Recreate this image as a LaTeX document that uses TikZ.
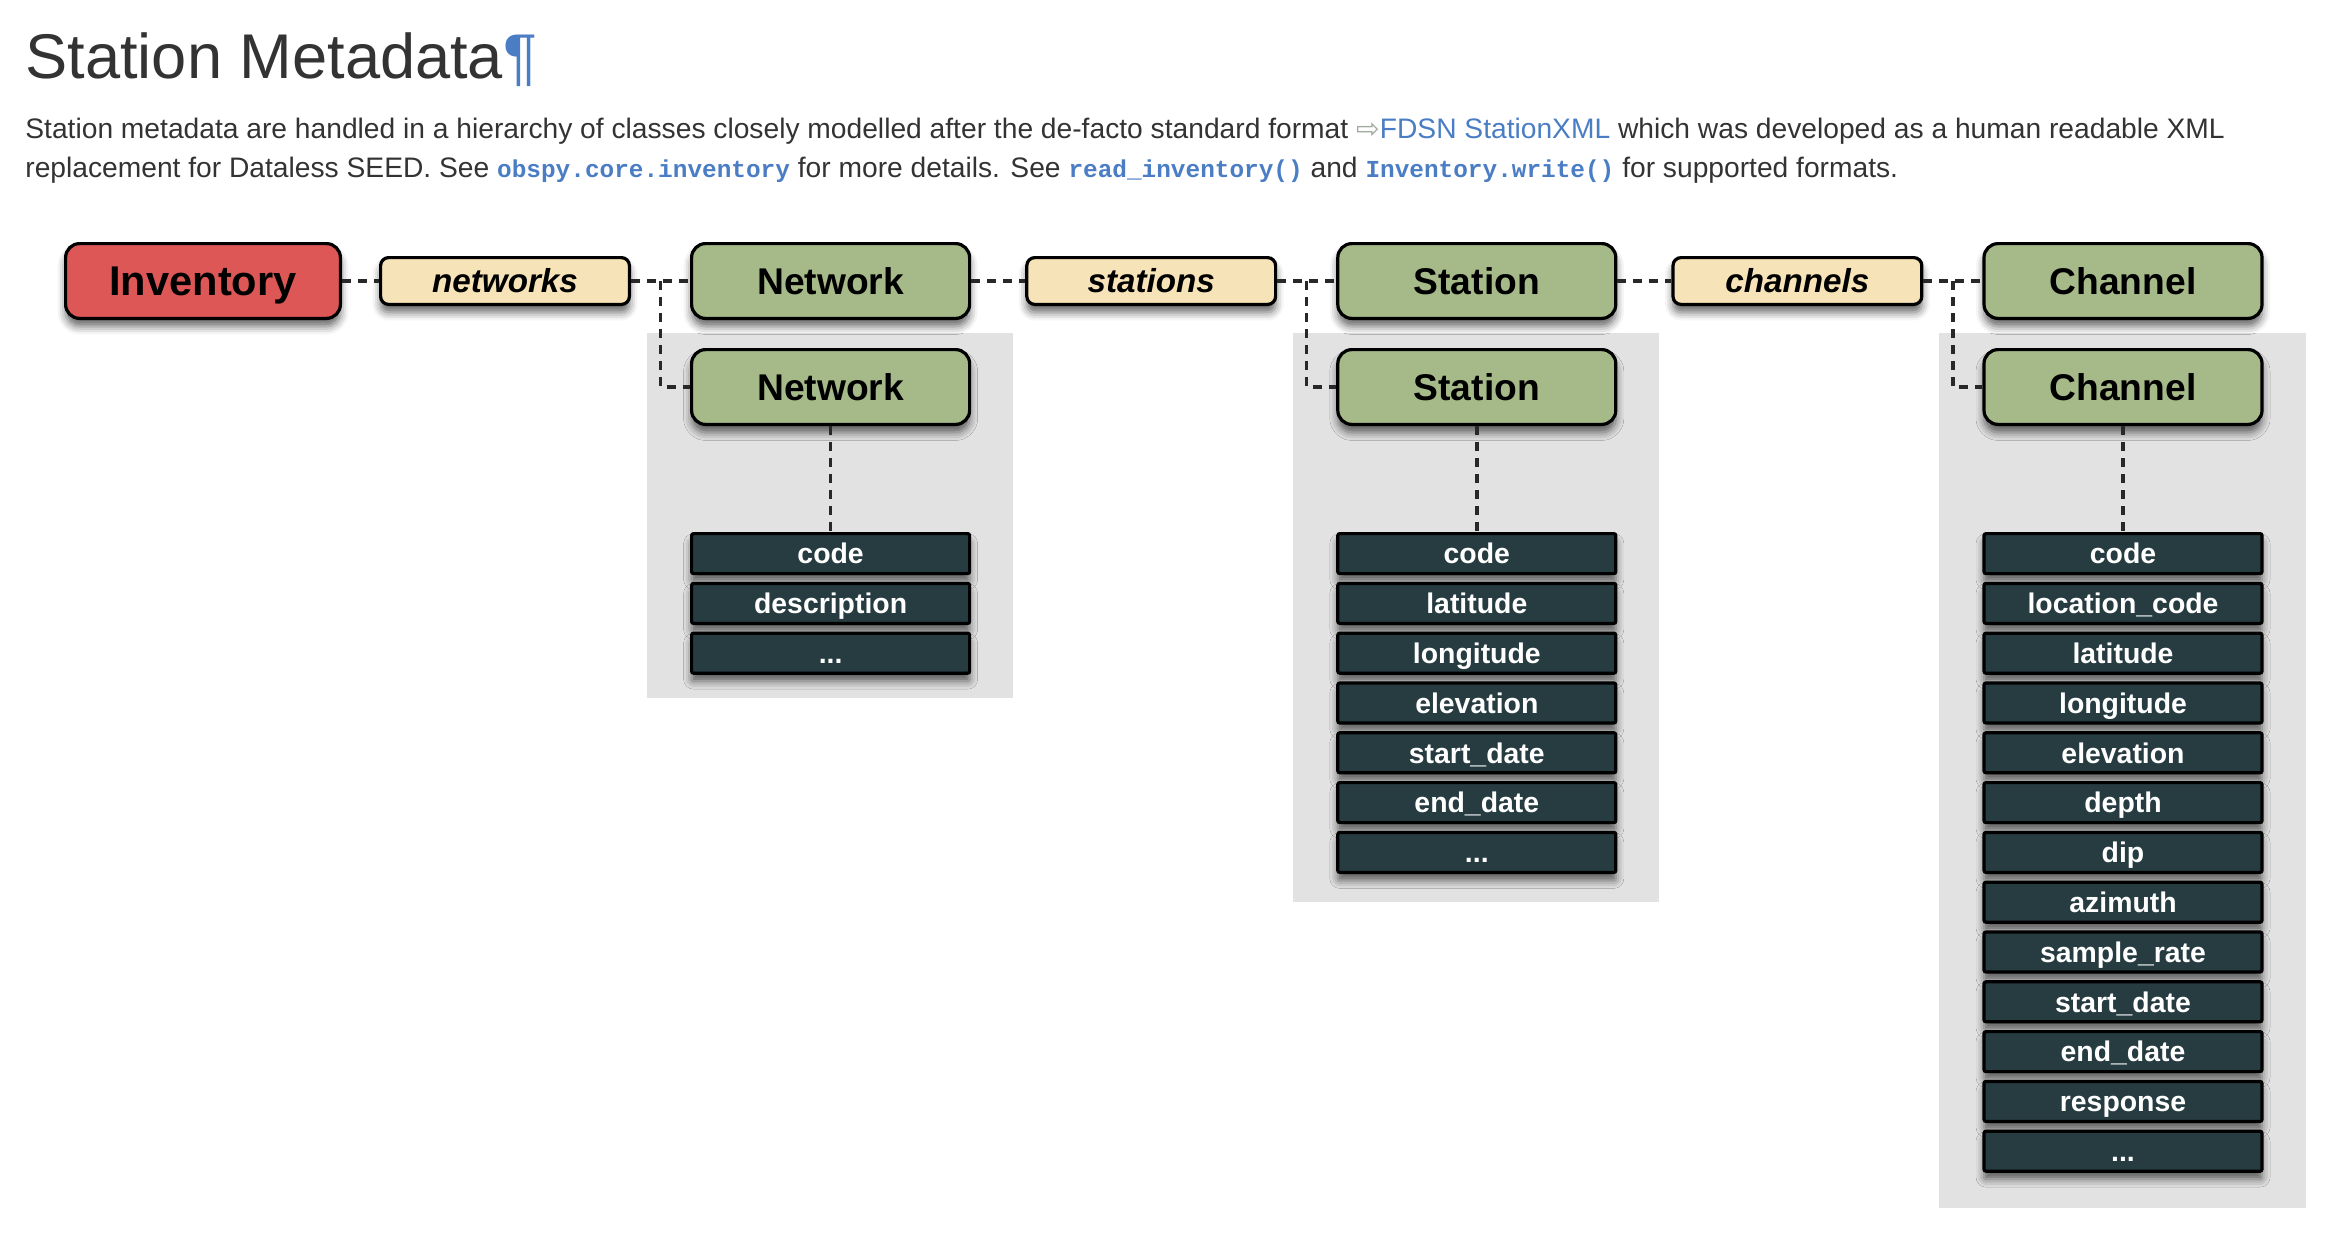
\documentclass[tikz,border=0pt]{standalone}
\usepackage{fontspec}
\setmainfont{Liberation Sans}
\setmonofont{Liberation Mono}
\newfontfamily\iconfont{DejaVu Sans}
\usepackage{tikz}
\usetikzlibrary{positioning, calc, backgrounds, shadows.blur}
\definecolor{color_inv}{RGB}{222,87,87}
\definecolor{color_class}{RGB}{165,186,136}
\definecolor{color_label}{RGB}{247,227,184}
\definecolor{color_attr}{RGB}{38,60,65}
\definecolor{color_panel}{RGB}{226,226,226}
\definecolor{color_line}{RGB}{40,40,40}
\definecolor{color_title}{RGB}{51,51,51}
\definecolor{color_link}{RGB}{74,125,196}
\definecolor{color_icon}{RGB}{160,172,160}
\newcommand{\pycode}[1]{\textcolor{color_link}{\fontsize{12.2pt}{14pt}\selectfont\ttfamily\bfseries #1}}

\begin{document}
\begin{tikzpicture}[x=0.5pt, y=0.5pt,
  box shadow/.style={blur shadow={shadow xshift=0pt, shadow yshift=-4pt, shadow blur radius=4pt, shadow opacity=60}},
  class/.style={draw=black, line width=1.6pt, rounded corners=7pt, fill=color_class,
    minimum width=139pt, minimum height=37.4pt, text height=13.3pt, text depth=0pt,
    font=\fontsize{18.6pt}{20pt}\selectfont\bfseries, box shadow},
  inventory/.style={class, fill=color_inv, minimum width=137.4pt, text height=14.9pt,
    font=\fontsize{20.8pt}{22pt}\selectfont\bfseries},
  label/.style={draw=black, line width=1.6pt, rounded corners=4pt, fill=color_label,
    minimum width=124.4pt, minimum height=23.4pt, text height=11.9pt, text depth=0pt,
    font=\fontsize{16.6pt}{18pt}\selectfont\bfseries\itshape, box shadow},
  attr/.style={draw=black, line width=1.6pt, rounded corners=1pt, fill=color_attr, text=white,
    minimum width=139pt, minimum height=20pt, text height=10.2pt, text depth=0pt,
    font=\fontsize{14.2pt}{16pt}\selectfont\bfseries, box shadow},
  link/.style={draw=color_line, line width=1.7pt, dash pattern=on 4.5pt off 3.5pt},
  para/.style={anchor=base west, inner sep=0pt, text=color_title, font=\fontsize{14.1pt}{16pt}\selectfont}]

  \useasboundingbox (0,0) rectangle (2344,-1248);

  % HEADING
  \node[anchor=base west, inner sep=0pt, text=color_title, font=\fontsize{31.6pt}{36pt}\selectfont]
    (title) at (25,-78) {Station Metadata\textcolor{color_link}{¶}};
  \node[para] (line1) at (25,-138) {Station metadata are handled in a hierarchy of classes closely modelled after the de-facto standard format {\iconfont\textcolor{color_icon}{⇨}}\textcolor{color_link}{FDSN StationXML} which was developed as a human readable XML};
  \node[para] (line2) at (25,-177) {replacement for Dataless SEED. See \pycode{obspy.core.inventory} for more details. See \pycode{read\_inventory()} and \pycode{Inventory.write()} for supported formats.};

  % TOP ROW
  \node[inventory] (inv) at (203,-281) {Inventory};
  \node[label, right=18.5pt of inv] (networks) {networks};
  \node[class, right=29.5pt of networks] (net1) {Network};
  \node[label, right=27pt of net1] (stations) {stations};
  \node[class, right=29.5pt of stations] (sta1) {Station};
  \node[label, right=27pt of sta1] (channels) {channels};
  \node[class, right=29.5pt of channels] (cha1) {Channel};

  %
  % NETWORK
  \node[class, below=14pt of net1] (net2) {Network};
  \node[attr, below=53pt of net2] (netcode) {code};
  \node[attr, below=3.3pt of netcode] (netdesc) {description};
  \node[attr, below=3.3pt of netdesc] (netdots) {...};

  %
  % STATION
  \node[class, below=14pt of sta1] (sta2) {Station};
  \node[attr, below=53pt of sta2] (stacode) {code};
  \node[attr, below=3.3pt of stacode] (stalat) {latitude};
  \node[attr, below=3.3pt of stalat] (stalon) {longitude};
  \node[attr, below=3.3pt of stalon] (staelev) {elevation};
  \node[attr, below=3.3pt of staelev] (stastart) {start\_date};
  \node[attr, below=3.3pt of stastart] (staend) {end\_date};
  \node[attr, below=3.3pt of staend] (stadots) {...};

  %
  % CHANNEL
  \node[class, below=14pt of cha1] (cha2) {Channel};
  \node[attr, below=53pt of cha2] (chacode) {code};
  \node[attr, below=3.3pt of chacode] (chaloc) {location\_code};
  \node[attr, below=3.3pt of chaloc] (chalat) {latitude};
  \node[attr, below=3.3pt of chalat] (chalon) {longitude};
  \node[attr, below=3.3pt of chalon] (chaelev) {elevation};
  \node[attr, below=3.3pt of chaelev] (chadepth) {depth};
  \node[attr, below=3.3pt of chadepth] (chadip) {dip};
  \node[attr, below=3.3pt of chadip] (chaazi) {azimuth};
  \node[attr, below=3.3pt of chaazi] (charate) {sample\_rate};
  \node[attr, below=3.3pt of charate] (chastart) {start\_date};
  \node[attr, below=3.3pt of chastart] (chaend) {end\_date};
  \node[attr, below=3.3pt of chaend] (charesp) {response};
  \node[attr, below=3.3pt of charesp] (chadots) {...};

  % PANELS
  \begin{scope}[on background layer]
    \fill[color_panel] ($(net2.north west)+(-43,15)$) rectangle ($(netdots.south east)+(42,-23)$);
    \fill[color_panel] ($(sta2.north west)+(-43,15)$) rectangle ($(stadots.south east)+(42,-28)$);
    \fill[color_panel] ($(cha2.north west)+(-43,15)$) rectangle ($(chadots.south east)+(42,-35)$);
  \end{scope}

  % LINKS
  \coordinate (netbr) at ($(networks.east)!0.5!(net1.west)$);
  \coordinate (stabr) at ($(stations.east)!0.5!(sta1.west)$);
  \coordinate (chabr) at ($(channels.east)!0.5!(cha1.west)$);
  \draw[link] (inv.east) -- (networks.west);
  \draw[link] (networks.east) -- (net1.west);
  \draw[link] (netbr) |- (net2.west);
  \draw[link] (net2.south) -- (netcode.north);
  \draw[link] (net1.east) -- (stations.west);
  \draw[link] (stations.east) -- (sta1.west);
  \draw[link] (stabr) |- (sta2.west);
  \draw[link] (sta2.south) -- (stacode.north);
  \draw[link] (sta1.east) -- (channels.west);
  \draw[link] (channels.east) -- (cha1.west);
  \draw[link] (chabr) |- (cha2.west);
  \draw[link] (cha2.south) -- (chacode.north);

\end{tikzpicture}
\end{document}
